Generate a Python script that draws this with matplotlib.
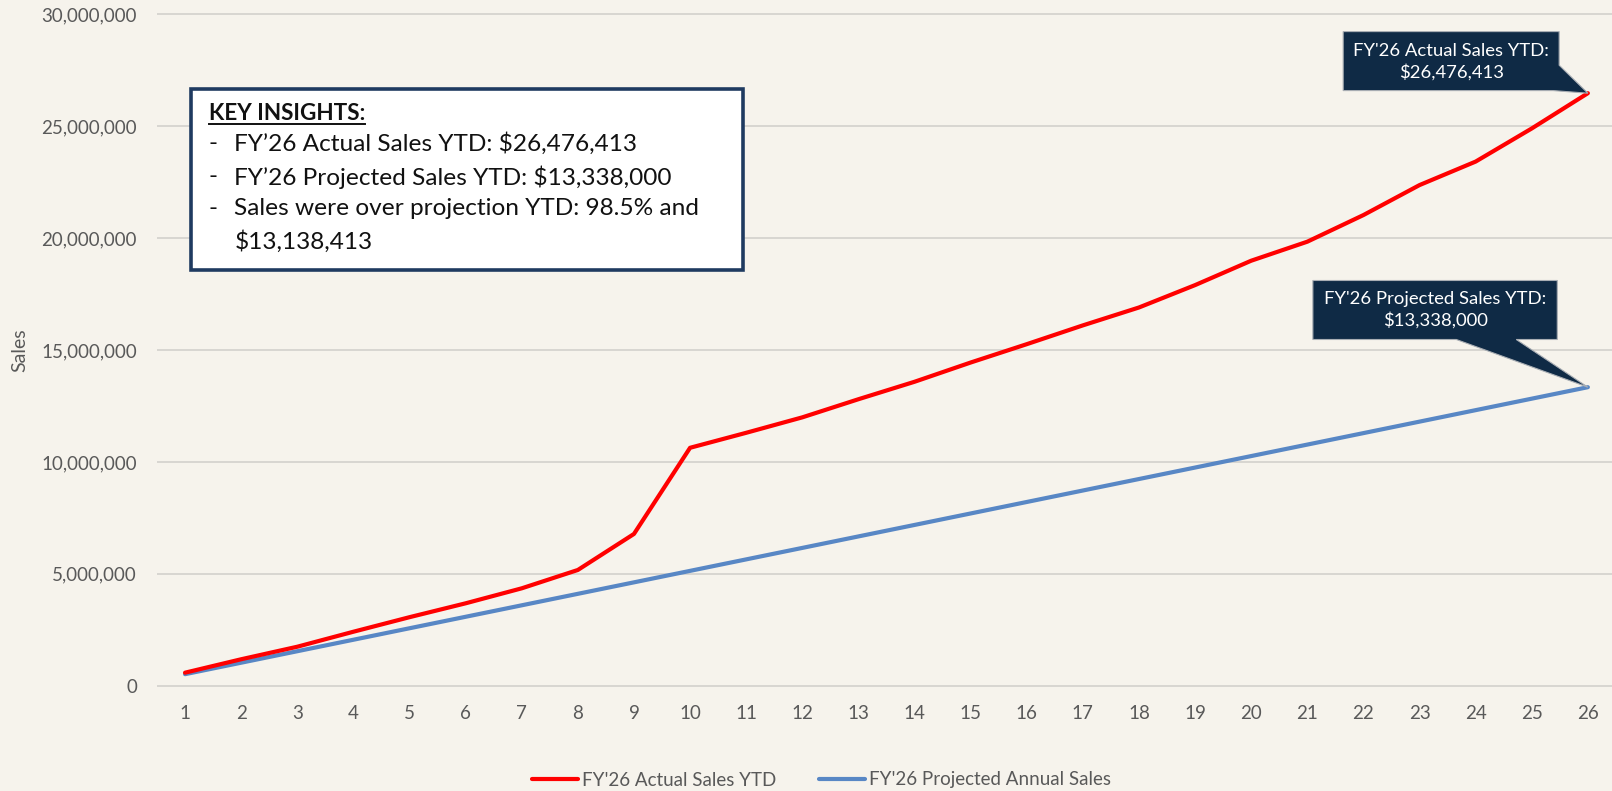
import matplotlib
matplotlib.use("Agg")
import matplotlib.pyplot as plt
from matplotlib.patches import Polygon, Rectangle
from matplotlib.lines import Line2D
from matplotlib.ticker import FuncFormatter

plt.rcParams["font.family"] = ["Lato", "DejaVu Sans"]

# ---- data -------------------------------------------------------------
weeks = list(range(1, 27))
actual_sales = [580000, 1180000, 1740000, 2410000, 3060000, 3680000, 4350000,
                5170000, 6780000, 10630000, 11300000, 11990000, 12800000,
                13580000, 14440000, 15260000, 16100000, 16900000, 17900000,
                18990000, 19840000, 21030000, 22370000, 23420000, 24900000,
                26476413]
projected_sales = [513000, 1026000, 1539000, 2052000, 2565000, 3078000,
                   3591000, 4104000, 4617000, 5130000, 5643000, 6156000,
                   6669000, 7182000, 7695000, 8208000, 8721000, 9234000,
                   9747000, 10260000, 10773000, 11286000, 11799000, 12312000,
                   12825000, 13338000]
series_labels = ["FY'26 Actual Sales YTD", "FY'26 Projected Annual Sales"]
y_ticks = [0, 5000000, 10000000, 15000000, 20000000, 25000000, 30000000]

# ---- styling ----------------------------------------------------------
W, H = 1612, 791
BG = "#F6F3EC"
RED = "#FF0000"
BLUE = "#5887C5"
GRAY_TXT = "#595959"
NAVY = "#0F2A45"

fig = plt.figure(figsize=(W / 100, H / 100), dpi=100, facecolor=BG)


def fx(px):
    return px / W


def fy(py):
    return 1 - py / H


ax_top, ax_bot = 12.1, 687.9
ax = fig.add_axes([fx(157), fy(ax_bot), (W - 157) / W, (ax_bot - ax_top) / H])
ax.set_facecolor(BG)
ax.set_xlim(0.5, 26.43)
ax.set_ylim(-100000, 30100000)

l1, = ax.plot(weeks, actual_sales, color=RED, lw=3.0, solid_capstyle="round",
              solid_joinstyle="round", zorder=4)
l2, = ax.plot(weeks, projected_sales, color=BLUE, lw=3.0, solid_capstyle="round",
              solid_joinstyle="round", zorder=3)

ax.set_xticks(weeks)
ax.set_yticks(y_ticks)
ax.yaxis.set_major_formatter(FuncFormatter(lambda v, p: f"{int(v):,}"))
ax.yaxis.grid(True, color="#D3D1CC", lw=1.2)
ax.set_axisbelow(True)
for s in ax.spines.values():
    s.set_visible(False)
ax.tick_params(length=0, labelsize=13.5, labelcolor=GRAY_TXT)
ax.tick_params(axis="y", pad=14.4)
ax.tick_params(axis="x", pad=12)

fig.text(fx(20), fy(350), "Sales", rotation=90, ha="center", va="center",
         fontsize=14, color=GRAY_TXT)

fig.legend([l1, l2], series_labels, loc="center",
           bbox_to_anchor=(fx(821.5), fy(780)), ncol=2, frameon=False,
           fontsize=13.5, handlelength=2.45, handletextpad=0.2,
           columnspacing=2.3, labelcolor=GRAY_TXT)

# ---- key insights panel ----------------------------------------------
final_actual = actual_sales[-1]
final_proj = projected_sales[-1]
over = final_actual - final_proj
over_pct = over / final_proj * 100

box_l, box_r, box_t, box_b = 191, 743.3, 89.4, 270.4
fig.add_artist(Rectangle((fx(box_l), fy(box_b)), (box_r - box_l) / W,
                         (box_b - box_t) / H, transform=fig.transFigure,
                         facecolor="white", edgecolor="#1F3A60", lw=2.6,
                         zorder=5))

key_fs = 17.6
head = fig.text(fx(208.7), fy(113), "KEY INSIGHTS:", fontsize=16.2,
                fontweight="bold", va="center", ha="left", color="#111111",
                zorder=6, parse_math=False)

insight_lines = [
    ("-", f"FY\u201926 Actual Sales YTD: ${final_actual:,}"),
    ("-", f"FY\u201926 Projected Sales YTD: ${final_proj:,}"),
    ("-", f"Sales were over projection YTD: {over_pct:.1f}% and"),
    ("", f"${over:,}"),
]
line_y = [144, 176.8, 208.7, 241.6]
for (dash, txt), yy in zip(insight_lines, line_y):
    if dash:
        fig.text(fx(208.7), fy(yy), dash, fontsize=key_fs, va="center",
                 ha="left", color="#111111", zorder=6, parse_math=False)
    fig.text(fx(234.4), fy(yy), txt, fontsize=key_fs, va="center", ha="left",
             color="#111111", zorder=6, parse_math=False)

renderer = fig.canvas.get_renderer()
bb = head.get_window_extent(renderer)
fig.add_artist(Line2D([bb.x0 / W, bb.x1 / W], [fy(124.2), fy(124.2)],
                      transform=fig.transFigure, color="#111111", lw=1.4,
                      zorder=6))


# ---- end-point callouts ----------------------------------------------
def callout(x, val, verts, text_off, text):
    tx, ty = ax.transData.transform((x, val))
    pts = [((tx + dx) / W, (ty - dy) / H) for dx, dy in verts]
    fig.add_artist(Polygon(pts, closed=True, transform=fig.transFigure,
                           facecolor=NAVY, edgecolor="#A9AEB4", lw=0.8,
                           zorder=7))
    fig.text((tx + text_off[0]) / W, (ty - text_off[1]) / H, text,
             ha="center", va="center", fontsize=13.3, color="white",
             linespacing=1.35, zorder=8, parse_math=False)


# offsets in pixels from the tip (y measured downward)
L, R, T, B = -244.7, -28.7, -61.6, -2.6
callout(weeks[-1], final_actual,
        [(L, T), (R, T), (R, -28), (0, 0), (R - 6, B), (L, B)],
        (-136.7, -31.3), f"FY'26 Actual Sales YTD:\n${final_actual:,}")

L, R, T, B = -275, -30.6, -106.7, -47.7
callout(weeks[-1], final_proj,
        [(L, T), (R, T), (R, B), (-71.6, B), (0, 0), (-131.6, B), (L, B)],
        (-152.7, -77), f"FY'26 Projected Sales YTD:\n${final_proj:,}")

fig.savefig("out.png", dpi=100, facecolor=BG)
